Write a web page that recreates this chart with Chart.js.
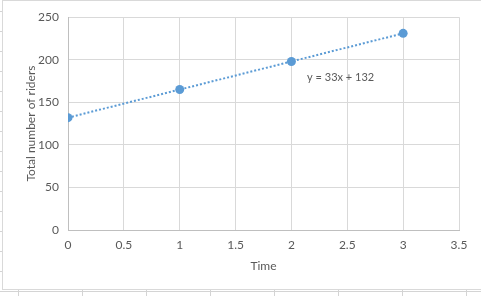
<!DOCTYPE html>
<html>
  <head>
    <meta charset="utf-8">
    <title>Riders over time</title>
    <script src="https://cdn.jsdelivr.net/npm/chart.js@4.4.0/dist/chart.umd.min.js"></script>
    <style>
      body {
        margin: 0;
        width: 481px;
        height: 296px;
        overflow: hidden;
        background-color: #fff;
        background-image:
          repeating-linear-gradient(to right, transparent 0 18px, #d4d4d4 18px 19px, transparent 19px 64px),
          repeating-linear-gradient(to bottom, transparent 0 11px, #d4d4d4 11px 12px, transparent 12px 20px);
      }
      #box {
        position: absolute;
        left: 2px;
        top: 0px;
        width: 490px;
        height: 288px;
        background: #fff;
        border: 1px solid #d9d9d9;
      }
      #wrap { position: absolute; left: 0; top: 0; width: 478px; height: 286px; }
    </style>
  </head>
  <body>
  <div id="box"><div id="wrap"><canvas id="myChart"></canvas></div></div>
  <script>
    // data
    const times = [0, 1, 2, 3];
    const riders = [132, 165, 198, 231];
    const trendTimes = [0, 3];
    const trendRiders = [132, 231];
    const equation = 'y = 33x + 132';
    const equationAt = {x: 2.14, y: 179};

    const fontFamily = 'Lato, Calibri, "Open Sans", sans-serif';
    const textColor = '#595959';

    const equationLabel = {
      id: 'equationLabel',
      afterDatasetsDraw(chart) {
        const ctx = chart.ctx;
        const x = chart.scales.x.getPixelForValue(equationAt.x);
        const y = chart.scales.y.getPixelForValue(equationAt.y);
        ctx.save();
        ctx.font = '11px ' + fontFamily;
        ctx.fillStyle = textColor;
        ctx.textAlign = 'left';
        ctx.textBaseline = 'middle';
        ctx.fillText(equation, x, y);
        ctx.restore();
      }
    };

    const ctx = document.getElementById('myChart').getContext('2d');
    new Chart(ctx, {
      type: 'scatter',
      data: {
        datasets: [{
          label: 'Trend',
          data: trendTimes.map((t, i) => ({x: t, y: trendRiders[i]})),
          showLine: true,
          borderColor: '#5b9bd5',
          borderWidth: 2,
          borderDash: [2, 2],
          pointRadius: 0,
          fill: false
        }, {
          label: 'Riders',
          data: times.map((t, i) => ({x: t, y: riders[i]})),
          backgroundColor: '#5b9bd5',
          borderColor: '#5b9bd5',
          pointRadius: 4.5,
          pointBorderWidth: 0
        }]
      },
      options: {
        responsive: true,
        maintainAspectRatio: false,
        animation: false,
        layout: { padding: {top: 15, right: 22, left: 0, bottom: 0} },
        plugins: { legend: {display: false}, tooltip: {enabled: false} },
        scales: {
          x: {
            type: 'linear',
            min: 0, max: 3.5,
            afterFit: s => { s.height = 57; },
            ticks: { stepSize: 0.5, color: textColor, padding: 8, font: {family: fontFamily, size: 12},
                     callback: v => String(v) },
            grid: { color: '#d9d9d9', drawTicks: false },
            border: { color: '#bfbfbf' },
            title: { display: true, text: 'Time', color: textColor, padding: {top: 0, bottom: 14}, font: {family: fontFamily, size: 12} }
          },
          y: {
            min: 0, max: 250,
            afterFit: s => { s.width = 65; },
            ticks: { stepSize: 50, color: textColor, padding: 9, font: {family: fontFamily, size: 12} },
            grid: { color: '#d9d9d9', drawTicks: false },
            border: { color: '#bfbfbf' },
            title: { display: true, text: 'Total number of riders', color: textColor, padding: {top: 21, bottom: 0}, font: {family: fontFamily, size: 12} }
          }
        }
      },
      plugins: [equationLabel]
    });
  </script>
  </body>
</html>
